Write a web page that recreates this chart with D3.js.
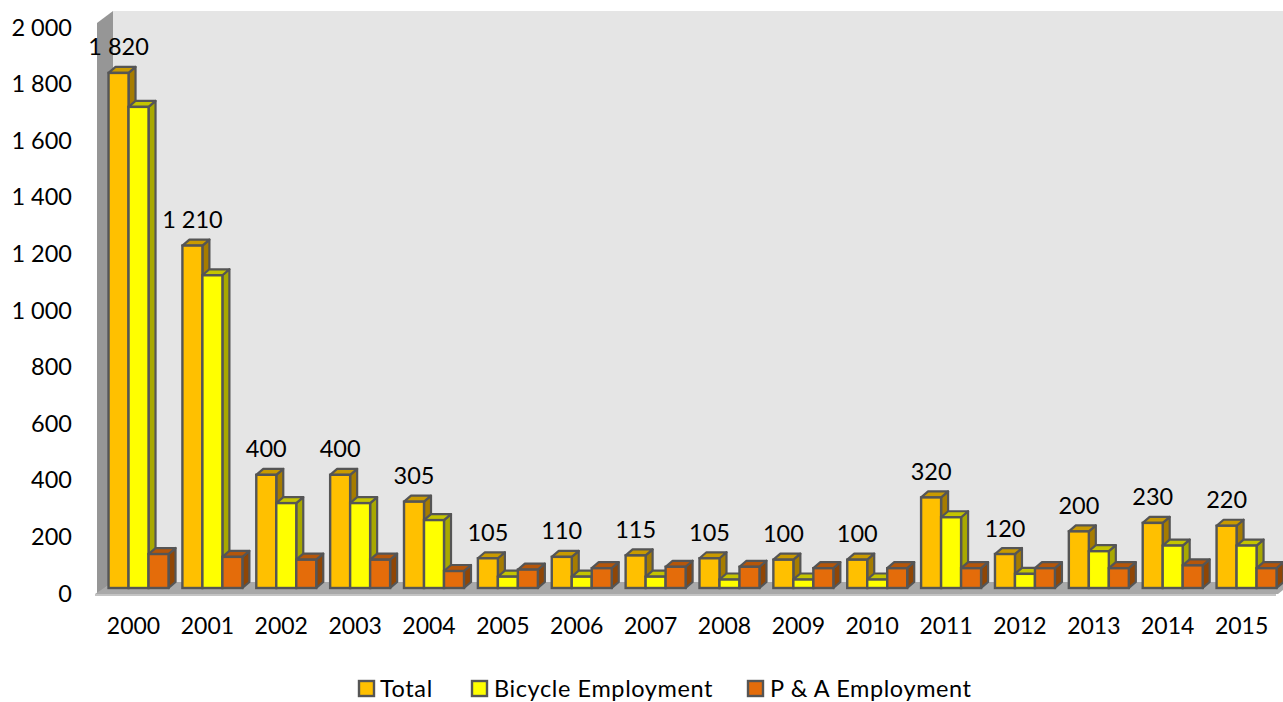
<!DOCTYPE html>
<html><head><meta charset="utf-8">
<script src="https://cdn.jsdelivr.net/npm/d3@7/dist/d3.min.js"></script>
<style>html,body{margin:0;padding:0;background:#fff}svg{display:block}text{font-family:Lato,"Open Sans",sans-serif;fill:#000}</style>
</head><body><svg id="c" width="1283" height="702"></svg>
<script>
const years=["2000","2001","2002","2003","2004","2005","2006","2007","2008","2009","2010","2011","2012","2013","2014","2015"];
const total=[1820,1210,400,400,305,105,110,115,105,100,100,320,120,200,230,220];
const bicycle=[1700,1105,300,300,240,40,40,40,30,30,30,250,50,130,150,150];
const pa=[120,110,100,100,60,65,70,75,75,70,70,70,70,70,80,70];
const seriesNames=["Total","Bicycle Employment","P & A Employment"];
const seriesFront=["#ffc000","#ffff00","#e46c0a"];
const seriesTop=["#c99a00","#c4c400","#b5560a"];
const seriesSide=["#a67c00","#a8a800","#8f4606"];
const yTicks=[0,200,400,600,800,1000,1200,1400,1600,1800,2000];
const series=[total,bicycle,pa];

const svg=d3.select("#c");
const y=d3.scaleLinear().domain([0,2000]).range([588,22]);
const x=d3.scaleBand().domain(years).range([101.6,1283.5]).paddingInner(0.188).paddingOuter(0.094);
const x1=d3.scaleBand().domain(d3.range(3)).range([0,x.bandwidth()]);
const fmt=d3.formatLocale({decimal:".",thousands:" ",grouping:[3],currency:["",""]}).format(",d");
const poly=p=>p.map(q=>q.join(",")).join(" ");
const wallD=[16,12], barD=[7,6];
const x0=97, yB=y(0)+6, yT=y(2000)+1;

// walls and floor
svg.append("polygon").attr("points",poly([[x0+wallD[0],yT-wallD[1]],[1283,yT-wallD[1]],[1283,yB-wallD[1]],[x0+wallD[0],yB-wallD[1]]])).attr("fill","#e5e5e5");
svg.append("polygon").attr("points",poly([[x0,yT],[x0+wallD[0],yT-wallD[1]],[x0+wallD[0],yB-wallD[1]],[x0,yB]])).attr("fill","#969696");
svg.append("polygon").attr("points",poly([[x0-2,yB],[x0+wallD[0],yB-wallD[1]],[1283,yB-wallD[1]],[1283,yB-4],[1278,yB]])).attr("fill","#a9a9a9");
svg.append("rect").attr("x",x0-2).attr("y",yB).attr("width",1181).attr("height",2).attr("fill","#c4c4c4");

// bars
const stroke="#555555";
years.forEach((yr,i)=>{
  const g=svg.append("g");
  series.forEach((s,k)=>{
    const l=x(yr)+x1(k), w=x1.bandwidth(), t=y(s[i]), b=y(0), dx=barD[0], dy=barD[1];
    g.append("polygon").attr("points",poly([[l+w,t],[l+w+dx,t-dy],[l+w+dx,b-dy],[l+w,b]])).attr("fill",seriesSide[k]).attr("stroke",stroke).attr("stroke-width",2.2).attr("stroke-linejoin","round");
    g.append("polygon").attr("points",poly([[l,t],[l+dx,t-dy],[l+w+dx,t-dy],[l+w,t]])).attr("fill",seriesTop[k]).attr("stroke",stroke).attr("stroke-width",2.2).attr("stroke-linejoin","round");
    g.append("rect").attr("x",l).attr("y",t).attr("width",w).attr("height",b-t).attr("fill",seriesFront[k]).attr("stroke",stroke).attr("stroke-width",2.4);
  });
});

// data labels
svg.append("g").selectAll("text").data(years).join("text")
  .attr("x",d=>x(d)+x1(0)+x1.bandwidth()/2)
  .attr("y",(d,i)=>y(total[i])-17.5)
  .attr("text-anchor","middle").attr("font-size",23.5)
  .text((d,i)=>fmt(total[i]));

// axes
const ax=svg.append("g").attr("transform","translate(78,5.5)").call(d3.axisLeft(y).tickValues(yTicks).tickFormat(fmt).tickSize(0).tickPadding(6));
ax.select(".domain").remove();
ax.selectAll("text").attr("font-size",23.5).style("font-family",'Lato,"Open Sans",sans-serif');
const bx=svg.append("g").attr("transform","translate(-5,621)").call(d3.axisBottom(x).tickSize(0).tickPadding(0));
bx.select(".domain").remove();
bx.selectAll("text").attr("font-size",23).attr("dy","0.71em").attr("y",-3).style("font-family",'Lato,"Open Sans",sans-serif');

// legend
const legX=[359,472,748], legTx=[380,494,770];
seriesNames.forEach((n,k)=>{
  svg.append("rect").attr("x",legX[k]).attr("y",681).attr("width",15).attr("height",15).attr("fill",seriesFront[k]).attr("stroke",stroke).attr("stroke-width",2.4);
  svg.append("text").attr("x",legTx[k]).attr("y",697).attr("font-size",23.5).attr("letter-spacing",0.6).text(n);
});
</script></body></html>
